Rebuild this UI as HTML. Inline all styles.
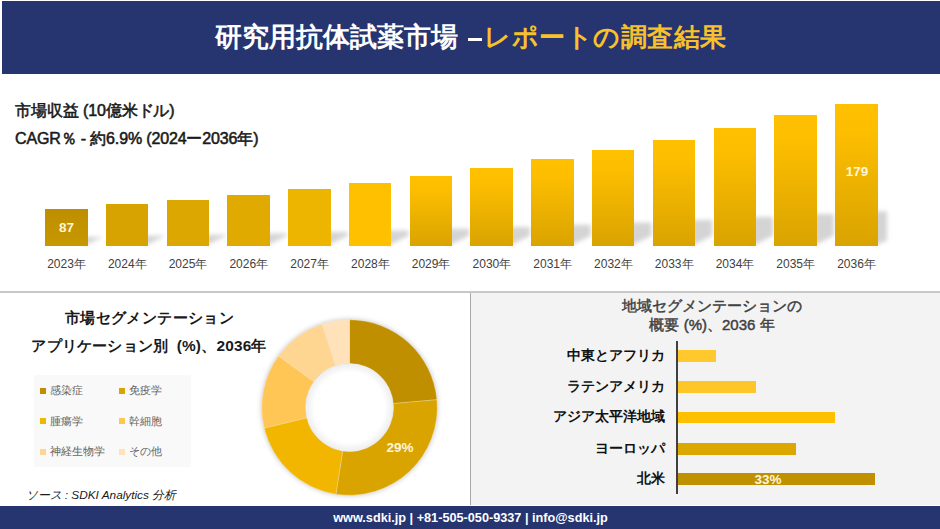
<!DOCTYPE html>
<html><head><meta charset="utf-8">
<style>
*{margin:0;padding:0;box-sizing:border-box}
html,body{width:940px;height:529px;overflow:hidden;background:#fff}
body{position:relative;font-family:"Liberation Sans",sans-serif}
.abs{position:absolute}
#hdr{position:absolute;left:2px;top:1px;width:938px;height:72.5px;background:#263470}
#title{position:absolute;left:215px;top:21px;height:32px;line-height:32px;font-size:26.5px;font-weight:bold;color:#fff;white-space:nowrap;letter-spacing:0px}
#title2{position:absolute;left:484px;top:21px;height:32px;line-height:32px;font-size:26.3px;letter-spacing:0.55px;font-weight:bold;color:#F8C12C;white-space:nowrap}
.sub{position:absolute;left:15px;font-size:16px;font-weight:normal;-webkit-text-stroke:0.55px #1a1a1a;color:#1a1a1a;white-space:nowrap;line-height:20px}
.bar{position:absolute;width:42.6px}
.sh{position:absolute;background:rgba(0,0,0,0.22);filter:blur(2.5px);transform:skewX(-22deg);transform-origin:0 100%}
.yl{position:absolute;top:256px;width:63px;text-align:center;font-size:12px;color:#404040;line-height:16px;white-space:nowrap}
.vl{position:absolute;color:#FFF5D8;font-weight:bold;font-size:13.5px;text-align:center;width:43px;line-height:16px}
#hline{position:absolute;left:0;top:291px;width:940px;height:2px;background:#C8C8C8}
#vline{position:absolute;left:470px;top:293px;width:1.2px;height:212px;background:#A8A8A8}
#rpanel{position:absolute;left:471.2px;top:293px;width:468.8px;height:212px;background:#F3F3F3}
.st{position:absolute;font-size:15.4px;font-weight:bold;color:#1a1a1a;white-space:nowrap;text-align:center;line-height:20px}
#legbox{position:absolute;left:34px;top:375px;width:157px;height:92px;background:#F9F9F9}
.lm{position:absolute;width:6px;height:6px}
.lt{position:absolute;font-size:11.2px;color:#636363;line-height:15px;white-space:nowrap}
.rt{position:absolute;left:571px;width:282px;text-align:center;font-size:15px;font-weight:normal;-webkit-text-stroke:0.45px #404040;color:#404040;line-height:19px;white-space:nowrap}
#axis{position:absolute;left:676px;top:341px;width:1.5px;height:153px;background:#404040}
.hbar{position:absolute;left:677.5px;height:11.5px}
.hl{position:absolute;left:482px;width:183px;text-align:right;font-size:14px;font-weight:bold;color:#111;line-height:18px;white-space:nowrap}
#src{position:absolute;left:25.5px;top:488px;font-size:11.8px;font-style:italic;color:#1a1a1a;line-height:14px;white-space:nowrap}
#ftr{position:absolute;left:0;top:506px;width:940px;height:23px;background:#263470}
#ftxt{position:absolute;left:0.5px;top:509px;width:940px;text-align:center;font-size:12.7px;font-weight:bold;color:#fff;line-height:18px;white-space:nowrap}
</style></head><body>
<div id="hdr"></div>
<div id="title">研究用抗体試薬市場</div><div class="abs" style="left:468px;top:38px;width:14px;height:3.3px;background:#fff"></div><div id="title2">レポートの調査結果</div>
<div class="sub" style="top:100.5px;letter-spacing:-0.1px">市場収益 (10億米ドル)</div>
<div class="sub" style="top:128.5px;letter-spacing:-0.15px">CAGR％ - 約6.9% (2024ー2036年)</div>
<svg class="abs" style="left:0;top:0" width="940" height="529"><defs><filter id="bs" x="-50%" y="-50%" width="200%" height="200%"><feGaussianBlur stdDeviation="2"/></filter></defs><g fill="rgba(0,0,0,0.17)" filter="url(#bs)"><polygon points="83.6,246.0 83.6,236.9 102.7,236.9 102.7,236.9"/><polygon points="144.4,246.0 144.4,235.8 165.4,235.8 165.4,235.8"/><polygon points="205.1,246.0 205.1,234.7 226.1,234.7 226.1,235.8"/><polygon points="265.9,246.0 265.9,233.5 286.9,233.5 286.9,235.8"/><polygon points="326.7,246.0 326.7,232.0 347.7,232.0 347.7,235.8"/><polygon points="387.5,246.0 387.5,230.6 408.5,230.6 408.5,235.8"/><polygon points="448.2,246.0 448.2,228.8 469.2,228.8 469.2,235.8"/><polygon points="509.0,246.0 509.0,226.9 530.0,226.9 530.0,235.8"/><polygon points="569.8,246.0 569.8,224.8 590.8,224.8 590.8,235.8"/><polygon points="630.5,246.0 630.5,222.5 651.5,222.5 651.5,235.8"/><polygon points="691.3,246.0 691.3,220.0 712.3,220.0 712.3,235.8"/><polygon points="752.1,246.0 752.1,217.1 773.1,217.1 773.1,235.8"/><polygon points="812.8,246.0 812.8,213.9 833.8,213.9 833.8,235.8"/><polygon points="873.6,246.0 873.6,211.2 887.0,211.2 887.0,240.4"/></g></svg>
<div class="bar" style="left:45.0px;top:209px;height:37.0px;background:linear-gradient(180deg,#BF8E00,#C79800)"></div><div class="bar" style="left:105.8px;top:204.3px;height:41.7px;background:#D7A300"></div><div class="bar" style="left:166.5px;top:200px;height:46.0px;background:#DCA700"></div><div class="bar" style="left:227.3px;top:195px;height:51.0px;background:#E0AA00"></div><div class="bar" style="left:288.1px;top:189px;height:57.0px;background:#EDB500"></div><div class="bar" style="left:348.9px;top:183.2px;height:62.8px;background:#FFC000"></div><div class="bar" style="left:409.6px;top:176px;height:70.0px;background:linear-gradient(180deg,#FFC000 0%,#FDBE00 20%,#D9A300 100%)"></div><div class="bar" style="left:470.4px;top:168px;height:78.0px;background:linear-gradient(180deg,#FFC000 0%,#FDBE00 20%,#D9A300 100%)"></div><div class="bar" style="left:531.2px;top:159.4px;height:86.6px;background:linear-gradient(180deg,#FFC000 0%,#FDBE00 20%,#D9A300 100%)"></div><div class="bar" style="left:591.9px;top:150px;height:96.0px;background:linear-gradient(180deg,#FFC000 0%,#FDBE00 20%,#D9A300 100%)"></div><div class="bar" style="left:652.7px;top:139.8px;height:106.2px;background:linear-gradient(180deg,#FFC000 0%,#FDBE00 20%,#D9A300 100%)"></div><div class="bar" style="left:713.5px;top:128px;height:118.0px;background:linear-gradient(180deg,#FFC000 0%,#FDBE00 20%,#D9A300 100%)"></div><div class="bar" style="left:774.2px;top:114.8px;height:131.2px;background:linear-gradient(180deg,#FFC000 0%,#FDBE00 20%,#D9A300 100%)"></div><div class="bar" style="left:835.0px;top:103.8px;height:142.2px;background:linear-gradient(180deg,#FFC000 0%,#FDBE00 20%,#D9A300 100%)"></div>
<div class="vl" style="left:45px;top:219.5px">87</div>
<div class="vl" style="left:835.5px;top:163.5px">179</div>
<div class="yl" style="left:35.0px">2023年</div><div class="yl" style="left:95.8px">2024年</div><div class="yl" style="left:156.5px">2025年</div><div class="yl" style="left:217.3px">2026年</div><div class="yl" style="left:278.1px">2027年</div><div class="yl" style="left:338.9px">2028年</div><div class="yl" style="left:399.6px">2029年</div><div class="yl" style="left:460.4px">2030年</div><div class="yl" style="left:521.2px">2031年</div><div class="yl" style="left:581.9px">2032年</div><div class="yl" style="left:642.7px">2033年</div><div class="yl" style="left:703.5px">2034年</div><div class="yl" style="left:764.2px">2035年</div><div class="yl" style="left:825.0px">2036年</div>
<div id="hline"></div>
<div id="rpanel"></div>
<div id="vline"></div>
<div class="st" style="left:49.5px;width:200px;top:308px;letter-spacing:0.4px">市場セグメンテーション</div>
<div class="st" style="left:19px;width:260px;top:335.5px;word-spacing:4px;letter-spacing:0.2px">アプリケーション別 (%)、2036年</div>
<div id="legbox"></div>
<div class="lm" style="left:40px;top:387.6px;background:#BF8F00"></div><div class="lt" style="left:50px;top:383.1px">感染症</div><div class="lm" style="left:119px;top:387.6px;background:#D9A400"></div><div class="lt" style="left:129px;top:383.1px">免疫学</div><div class="lm" style="left:40px;top:418.2px;background:#F2B600"></div><div class="lt" style="left:50px;top:413.7px">腫瘍学</div><div class="lm" style="left:119px;top:418.2px;background:#FFC655"></div><div class="lt" style="left:129px;top:413.7px">幹細胞</div><div class="lm" style="left:40px;top:448.8px;background:#FFD592"></div><div class="lt" style="left:50px;top:444.3px">神経生物学</div><div class="lm" style="left:119px;top:448.8px;background:#FFE1BA"></div><div class="lt" style="left:129px;top:444.3px">その他</div>
<svg class="abs" style="left:0;top:0" width="940" height="529" viewBox="0 0 940 529">
<defs><filter id="ds" x="-20%" y="-20%" width="140%" height="140%"><feGaussianBlur stdDeviation="2.5"/></filter>
<radialGradient id="hole" cx="0.5" cy="0.5" r="0.5"><stop offset="0.8" stop-color="#fff"/><stop offset="1" stop-color="#EDEDED"/></radialGradient></defs>
<circle cx="349.5" cy="407.5" r="88.2" fill="rgba(0,0,0,0.22)" filter="url(#ds)"/>
<path d="M349.50,319.80 A87.7,87.7 0 0 1 436.85,399.70 L393.33,403.59 A44,44 0 0 0 349.50,363.50 Z" fill="#BF8F00" stroke="#FFEFC8" stroke-width="0.5" stroke-opacity="0.6"/>
<path d="M436.85,399.70 A87.7,87.7 0 0 1 335.93,494.14 L342.69,450.97 A44,44 0 0 0 393.33,403.59 Z" fill="#D9A400" stroke="#FFEFC8" stroke-width="0.5" stroke-opacity="0.6"/>
<path d="M335.93,494.14 A87.7,87.7 0 0 1 264.26,428.12 L306.73,417.85 A44,44 0 0 0 342.69,450.97 Z" fill="#F2B600" stroke="#FFEFC8" stroke-width="0.5" stroke-opacity="0.6"/>
<path d="M264.26,428.12 A87.7,87.7 0 0 1 278.55,355.95 L313.90,381.64 A44,44 0 0 0 306.73,417.85 Z" fill="#FFC655" stroke="#FFEFC8" stroke-width="0.5" stroke-opacity="0.6"/>
<path d="M278.55,355.95 A87.7,87.7 0 0 1 322.11,324.19 L335.76,365.70 A44,44 0 0 0 313.90,381.64 Z" fill="#FFD592" stroke="#FFEFC8" stroke-width="0.5" stroke-opacity="0.6"/>
<path d="M322.11,324.19 A87.7,87.7 0 0 1 349.50,319.80 L349.50,363.50 A44,44 0 0 0 335.76,365.70 Z" fill="#FFE1BA" stroke="#FFEFC8" stroke-width="0.5" stroke-opacity="0.6"/>
<circle cx="349.5" cy="407.5" r="44" fill="url(#hole)"/>
<text x="400" y="451.5" font-family="Liberation Sans" font-weight="bold" font-size="13.5" fill="#FFF5D8" text-anchor="middle">29%</text>
</svg>
<div class="rt" style="top:296px">地域セグメンテーションの</div>
<div class="rt" style="top:315px">概要 (%)、2036 年</div>
<div id="axis"></div>
<div class="hbar" style="top:350.25px;width:38.0px;background:#FFC82C"></div><div class="hl" style="top:345.7px">中東とアフリカ</div><div class="hbar" style="top:381.05px;width:78.0px;background:#FFC62A"></div><div class="hl" style="top:376.5px">ラテンアメリカ</div><div class="hbar" style="top:411.85px;width:157.0px;background:#FFC000"></div><div class="hl" style="top:407.3px">アジア太平洋地域</div><div class="hbar" style="top:443.05px;width:118.0px;background:#DAA800"></div><div class="hl" style="top:438.5px">ヨーロッパ</div><div class="hbar" style="top:473.45px;width:197.0px;background:#BF9000"></div><div class="hl" style="top:468.9px">北米</div>
<div class="vl" style="left:745px;top:471.5px;width:46px">33%</div>
<div id="src">ソース : SDKI Analytics 分析</div>
<div id="ftr"></div>
<div id="ftxt">www.sdki.jp | +81-505-050-9337 | info@sdki.jp</div>
</body></html>
